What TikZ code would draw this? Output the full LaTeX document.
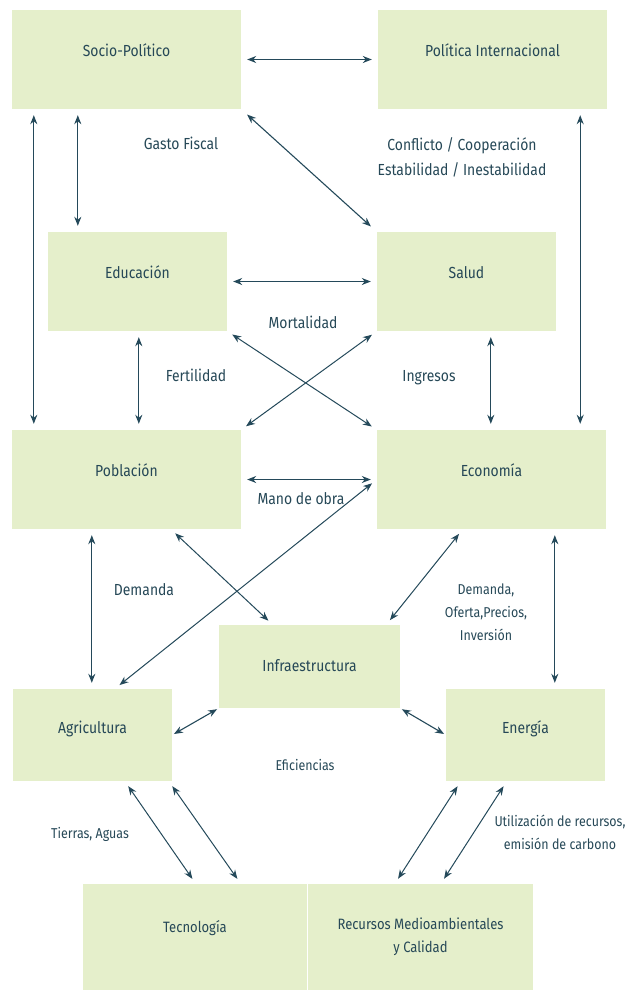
\documentclass[tikz,border=0pt]{standalone}
\usepackage{fontspec}
\setmainfont{Fira Sans}[FakeStretch=0.87]
\usepackage{tikz}
\usetikzlibrary{arrows.meta}

\definecolor{boxgreen}{HTML}{E5EFCB}
\definecolor{inkblue}{HTML}{264857}
\definecolor{arrowblue}{HTML}{24495A}

\begin{document}
\begin{tikzpicture}[x=1pt, y=-1pt,
    box/.style={fill=boxgreen, inner sep=0pt, text=inkblue, align=center,
        font=\fontsize{16}{23}\selectfont, text height=11pt, text depth=2pt},
    raised/.style={text depth=#1},
    note/.style={text=inkblue, align=center, inner sep=0pt,
        font=\fontsize{16}{25}\selectfont, text height=11pt, text depth=2pt},
    small/.style={font=\fontsize{14.3}{23}\selectfont},
    link/.style={draw=arrowblue, line width=1.1pt,
        {Stealth[length=9pt,width=7pt]}-{Stealth[length=9pt,width=7pt]},
        shorten <=6pt, shorten >=6pt},
    short/.style={shorten <=2pt, shorten >=2pt}]

    \useasboundingbox (0, 0) rectangle (628, 990);

    % draw boxes
    \node[box, raised=17pt, minimum width=229, minimum height=99] (socio) at (126.5, 59.5) {Socio-Político};
    \node[box, raised=17pt, minimum width=229, minimum height=99] (polint) at (492.5, 59.5) {Política Internacional};
    \node[box, raised=17pt, minimum width=179, minimum height=99] (educ) at (137.5, 281.5) {Educación};
    \node[box, raised=17pt, minimum width=179, minimum height=99] (salud) at (466.5, 281.5) {Salud};
    \node[box, raised=17pt, minimum width=229, minimum height=99] (pob) at (126.5, 479.5) {Población};
    \node[box, raised=17pt, minimum width=229, minimum height=99] (econ) at (491.5, 479.5) {Economía};
    \node[box, minimum width=181, minimum height=83] (infra) at (309.5, 666.5) {Infraestructura};
    \node[box, raised=14pt, minimum width=159, minimum height=92] (agri) at (92.5, 735) {Agricultura};
    \node[box, raised=14pt, minimum width=159, minimum height=92] (energ) at (525.5, 735) {Energía};
    \node[box, raised=20pt, minimum width=224, minimum height=106, font=\fontsize{15}{23}\selectfont] (tecno) at (195, 937) {Tecnología};
    \node[box, text height=33pt, minimum width=225, minimum height=106, font=\fontsize{15}{23}\selectfont] (recur) at (420.5, 937) {Recursos Medioambientales\\y Calidad};

    % draw labels (multi-line ones sit on their last line)
    \node[note] (gasto) at (181, 145) {Gasto Fiscal};
    \node[note] (conflicto) at (462, 171) {Conflicto / Cooperación\\Estabilidad / Inestabilidad};
    \node[note] (mortal) at (303, 324) {Mortalidad};
    \node[note] (fertil) at (196, 377) {Fertilidad};
    \node[note] (ingresos) at (429, 377) {Ingresos};
    \node[note] (mano) at (301, 500) {Mano de obra};
    \node[note] (demanda) at (144, 591) {Demanda};
    \node[note, small] (oferta) at (486, 636) {Demanda,\\Oferta,Precios,\\Inversión};
    \node[note, small] (eficien) at (305, 766) {Eficiencias};
    \node[note, small] (tierras) at (90, 834) {Tierras, Aguas};
    \node[note, small] (utiliza) at (560, 845) {Utilización de recursos,\\emisión de carbono};

    % draw top links
    \draw[link] (socio.east) -- (polint.west);
    \draw[link] ([xshift=22]socio.south west) -- ([xshift=22]pob.north west);
    \draw[link] ([xshift=66]socio.south west) -- ([xshift=30]educ.north west);
    \draw[link, shorten <=8pt, shorten >=8pt] (socio.south east) -- (salud.north west);
    \draw[link] ([xshift=-27]polint.south east) -- ([xshift=-26]econ.north east);

    % draw middle links
    \draw[link] (educ.east) -- (salud.west);
    \draw[link, line width=1pt] (educ.south east) -- (econ.north west);
    \draw[link, line width=1pt] (salud.south west) -- (pob.north east);
    \draw[link] ([xshift=91]educ.south west) -- ([xshift=127]pob.north west);
    \draw[link] ([xshift=114]salud.south west) -- ([xshift=114]econ.north west);
    \draw[link] (pob.east) -- (econ.west);

    % draw lower links
    \draw[link] ([xshift=80]pob.south west) -- ([xshift=79]agri.north west);
    \draw[link, line width=1pt] ([xshift=159]pob.south west) -- ([xshift=54]infra.north west);
    \draw[link, line width=1pt] ([xshift=102]agri.north west) -- (econ.west);
    \draw[link, line width=1pt] ([xshift=86]econ.south west) -- ([xshift=-14]infra.north east);
    \draw[link] ([xshift=178]econ.south west) -- ([xshift=109]energ.north west);
    \draw[link, short] (agri.east) -- (infra.south west);
    \draw[link, short] (infra.south east) -- (energ.west);

    % draw bottom links
    \draw[link, line width=1pt] ([xshift=112]agri.south west) -- ([xshift=113]tecno.north west);
    \draw[link, line width=1pt] ([xshift=156]agri.south west) -- ([xshift=158]tecno.north west);
    \draw[link, line width=1pt] ([xshift=15]energ.south west) -- ([xshift=87]recur.north west);
    \draw[link, line width=1pt] ([xshift=61]energ.south west) -- ([xshift=133]recur.north west);

\end{tikzpicture}
\end{document}
